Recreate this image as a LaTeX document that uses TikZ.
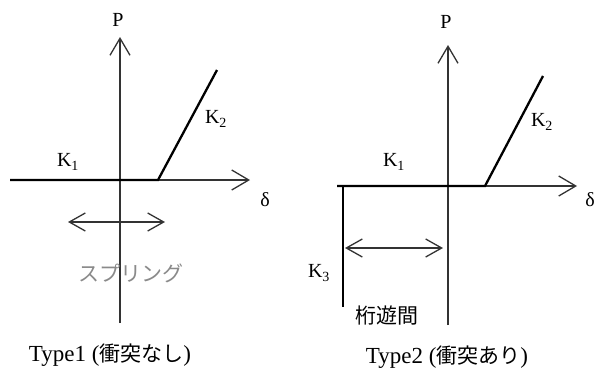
\documentclass[tikz,border=0pt]{standalone}
\usepackage{fontspec}
\setmainfont{Liberation Serif}
\newfontfamily\jpfont{Noto Sans CJK JP}
\usetikzlibrary{arrows.meta,positioning}
\definecolor{axisgray}{HTML}{333333}
\definecolor{notegray}{HTML}{8A8A8A}

\begin{document}
\begin{tikzpicture}[
    x=1pt,y=-1pt,
    axis/.style={draw=axisgray,line width=1.3pt,-{Straight Barb[length=17pt,width=20pt]}},
    branch/.style={draw=black,line width=2.3pt},
    gap/.style={draw=axisgray,line width=1.3pt,
      {Straight Barb[length=16pt,width=18pt]}-{Straight Barb[length=16pt,width=18pt]}},
    lbl/.style={inner sep=0pt,font=\fontsize{20}{24}\selectfont},
    jplbl/.style={inner sep=0pt,font=\jpfont\fontsize{21}{25}\selectfont},
    caption/.style={inner sep=0pt,font=\fontsize{23}{27}\selectfont}
  ]
    \useasboundingbox (0,0) rectangle (596,375);
    % Type1
    \coordinate (top1) at (120,37);
    \coordinate (bot1) at (120,323);
    \coordinate (left1) at (10,180);
    \coordinate (right1) at (250,180);
    \coordinate (kink1) at (158,180);
    \coordinate (end1) at (217,70);
    \coordinate (gapl1) at (68,222);
    \coordinate (gapr1) at (165,222);
    \draw[axis] (bot1) -- (top1);
    \draw[axis] (left1) -- (right1);
    \draw[branch] (left1) -- (kink1) -- (end1);
    \draw[gap] (gapl1) -- (gapr1);
    \node[lbl] (p1) at (118,20) {P};
    \node[lbl] (d1) at (265,200) {δ};
    \node[lbl] (ka1) at (68,162) {K\textsubscript{1}};
    \node[lbl] (kb1) at (216,119) {K\textsubscript{2}};
    \node[jplbl,text=notegray] (spring) at (131,273) {スプリング};
    \node[caption] (type1) at (110,355) {Type1 ({\jpfont\fontsize{21}{25}\selectfont 衝突なし})};
    % Type2
    \coordinate (top2) at (448,45);
    \coordinate (bot2) at (448,325);
    \coordinate (left2) at (337,186);
    \coordinate (right2) at (577,186);
    \coordinate (kink2) at (485,186);
    \coordinate (end2) at (543,76);
    \coordinate (wallt) at (343,186);
    \coordinate (wallb) at (343,307);
    \coordinate (gapl2) at (345,248);
    \coordinate (gapr2) at (443,248);
    \draw[axis] (bot2) -- (top2);
    \draw[axis] (left2) -- (right2);
    \draw[branch] (left2) -- (kink2) -- (end2);
    \draw[branch] (wallt) -- (wallb);
    \draw[gap] (gapl2) -- (gapr2);
    \node[lbl] (p2) at (446,22) {P};
    \node[lbl] (d2) at (590,200) {δ};
    \node[lbl] (ka2) at (394,162) {K\textsubscript{1}};
    \node[lbl] (kb2) at (542,122) {K\textsubscript{2}};
    \node[lbl] (kc2) at (319,273) {K\textsubscript{3}};
    \node[jplbl] (clear) at (387,315) {桁遊間};
    \node[caption] (type2) at (447,357) {Type2 ({\jpfont\fontsize{21}{25}\selectfont 衝突あり})};
  \end{tikzpicture}
\end{document}
